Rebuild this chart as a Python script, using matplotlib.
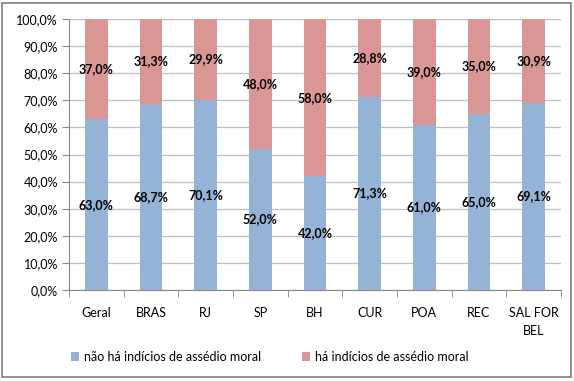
import matplotlib.pyplot as plt
import numpy as np
from matplotlib.patches import Rectangle

categorias = ['Geral', 'BRAS', 'RJ', 'SP', 'BH', 'CUR', 'POA', 'REC', 'SAL FOR\nBEL']
nao_ha = [63.0, 68.7, 70.1, 52.0, 42.0, 71.3, 61.0, 65.0, 69.1]
ha = [37.0, 31.3, 29.9, 48.0, 58.0, 28.8, 39.0, 35.0, 30.9]
serie_nomes = ['não há indícios de assédio moral', 'há indícios de assédio moral']
cores = ['#95B3D7', '#D99694']

plt.rcParams['font.family'] = ['Lato', 'DejaVu Sans']

fig = plt.figure(figsize=(5.74, 3.81), dpi=100)
ax = fig.add_axes([69 / 574, 1 - 290 / 381, (561 - 69) / 574, (290 - 19) / 381])

x = np.arange(len(categorias))
b1 = ax.bar(x, nao_ha, width=0.42, color=cores[0], label=serie_nomes[0], zorder=3)
b2 = ax.bar(x, ha, width=0.42, bottom=nao_ha, color=cores[1], label=serie_nomes[1], zorder=3)

fmt = lambda v: f'{v:.1f}%'.replace('.', ',')
for xi, a, b in zip(x, nao_ha, ha):
    ax.text(xi, a / 2, fmt(a), ha='center', va='center', fontsize=9, fontweight='bold', zorder=4)
    ax.text(xi, a + b / 2, fmt(b), ha='center', va='center', fontsize=9, fontweight='bold', zorder=4)

ax.set_xlim(-0.5, len(categorias) - 0.5)
ax.set_ylim(0, 100)
ax.set_yticks(np.arange(0, 101, 10))
ax.set_yticklabels([f'{v:.1f}%'.replace('.', ',') for v in np.arange(0, 101, 10)], fontsize=9)
ax.yaxis.grid(True, color='#BFBFBF', linewidth=0.9, zorder=0)
ax.set_xticks(x)
ax.set_xticklabels(categorias, fontsize=9, linespacing=1.6)
ax.set_xticks(np.arange(-0.5, len(categorias), 1), minor=True)
ax.tick_params(axis='x', which='major', length=0, pad=12)
ax.tick_params(axis='x', which='minor', length=5, color='#868686')
ax.tick_params(axis='y', length=5, color='#868686', pad=3)
for s in ['top', 'right']:
    ax.spines[s].set_visible(False)
for s in ['left', 'bottom']:
    ax.spines[s].set_color('#868686')

fig.legend(handles=[b1, b2], loc='center', bbox_to_anchor=(0.47, 1 - 357 / 381), ncol=2,
           frameon=False, fontsize=9, handlelength=0.7, handleheight=0.7,
           columnspacing=3.2, handletextpad=0.4)

fig.patches.append(Rectangle((2 / 574, 4 / 381), 569 / 574, 374 / 381, transform=fig.transFigure,
                             fill=False, edgecolor='#7F7F7F', linewidth=1.2))

fig.savefig('out.png', dpi=100)
